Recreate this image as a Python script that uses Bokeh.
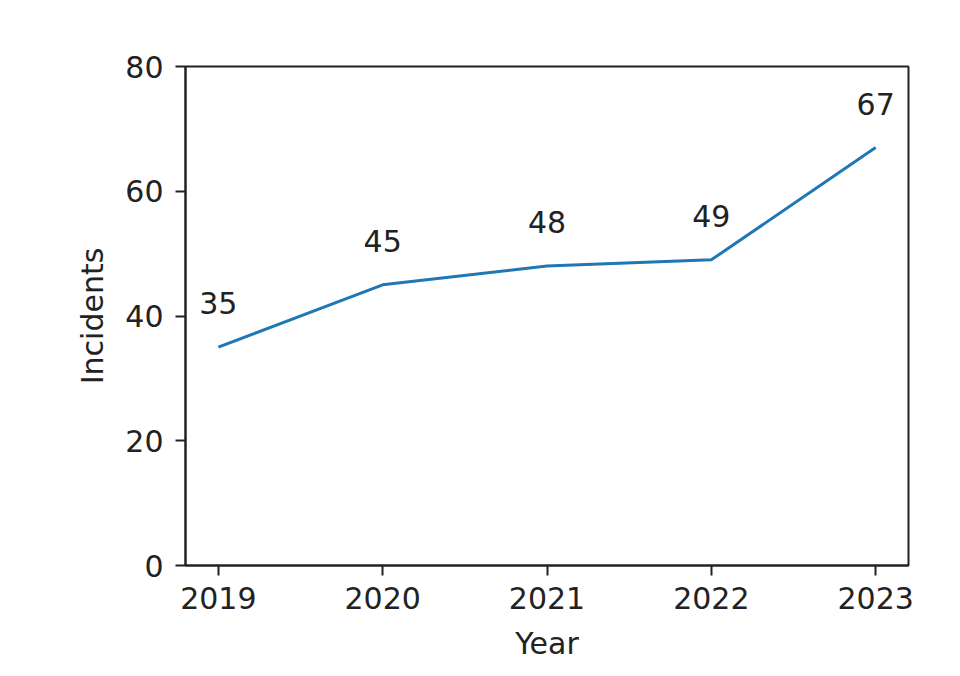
from bokeh.plotting import figure
from bokeh.models import FixedTicker, Range1d, ColumnDataSource
from bokeh.embed import file_html
from bokeh.resources import INLINE
from bokeh.core.properties import value

years = [2019, 2020, 2021, 2022, 2023]
incidents = [35, 45, 48, 49, 67]
labels = [str(v) for v in incidents]

src = ColumnDataSource(dict(x=years, y=incidents, t=labels))

FONT = "DejaVu Sans"
FS = "30px"
p = figure(width=960, height=676, output_backend="svg", toolbar_location=None,
           x_range=Range1d(2018.8, 2023.2), y_range=Range1d(0, 80),
           min_border_left=185, min_border_right=52, min_border_top=66, min_border_bottom=111)

p.line("x", "y", source=src, line_color="#1f77b4", line_width=3)
p.text("x", "y", text="t", source=src, text_align="center", text_baseline="middle",
       y_offset=-44, text_font=value(FONT), text_font_size=FS, text_color="#222222")

p.xgrid.visible = False
p.ygrid.visible = False
p.outline_line_color = "#222222"
p.outline_line_width = 2
p.outline_line_alpha = 1

p.xaxis.ticker = FixedTicker(ticks=years)
p.yaxis.ticker = FixedTicker(ticks=[0, 20, 40, 60, 80])
p.xaxis.axis_label = "Year"
p.yaxis.axis_label = "Incidents"

for ax in (p.xaxis[0], p.yaxis[0]):
    ax.axis_line_color = "#222222"
    ax.axis_line_width = 2
    ax.major_tick_line_color = "#222222"
    ax.major_tick_line_width = 2
    ax.major_tick_out = 10
    ax.major_tick_in = 0
    ax.minor_tick_line_color = None
    ax.major_label_text_font = FONT
    ax.major_label_text_font_size = FS
    ax.major_label_text_color = "#222222"
    ax.axis_label_text_font = FONT
    ax.axis_label_text_font_size = FS
    ax.axis_label_text_font_style = "normal"
    ax.axis_label_text_color = "#222222"

p.xaxis[0].major_label_standoff = 11
p.yaxis[0].major_label_standoff = 12
p.xaxis[0].axis_label_standoff = 14
p.yaxis[0].axis_label_standoff = 12

p.background_fill_color = "white"
p.border_fill_color = "white"

open("out.html", "w").write(file_html(p, INLINE))
